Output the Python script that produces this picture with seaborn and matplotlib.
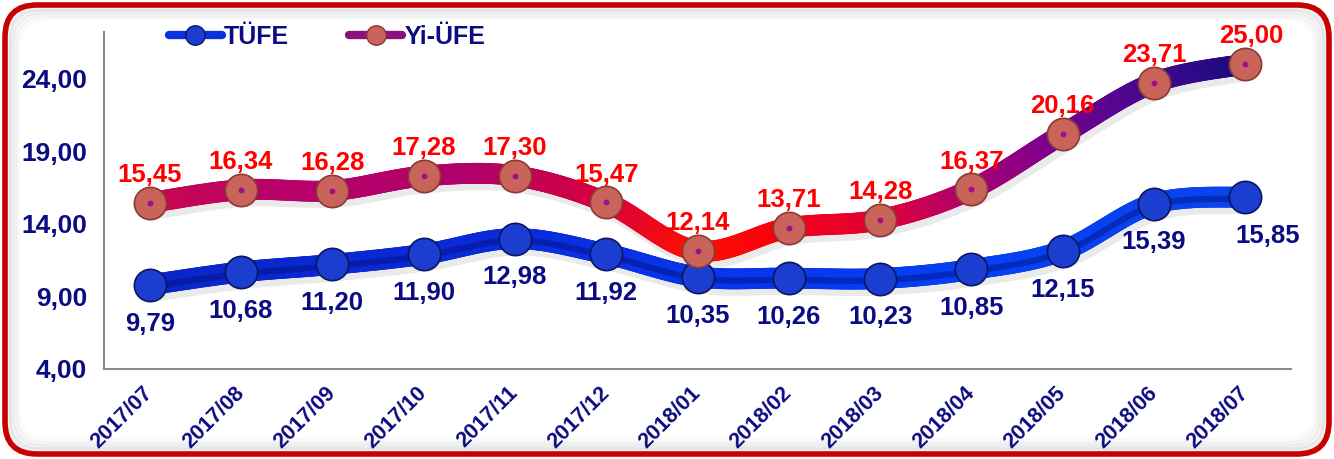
import numpy as np
import seaborn as sns
import matplotlib.pyplot as plt
from matplotlib.collections import LineCollection
from matplotlib.colors import LinearSegmentedColormap
from matplotlib.patches import FancyBboxPatch
from matplotlib.lines import Line2D

months = ["2017/07", "2017/08", "2017/09", "2017/10", "2017/11", "2017/12", "2018/01",
          "2018/02", "2018/03", "2018/04", "2018/05", "2018/06", "2018/07"]
tufe = [9.79, 10.68, 11.20, 11.90, 12.98, 11.92, 10.35, 10.26, 10.23, 10.85, 12.15, 15.39, 15.85]
yiufe = [15.45, 16.34, 16.28, 17.28, 17.30, 15.47, 12.14, 13.71, 14.28, 16.37, 20.16, 23.71, 25.00]
yticks = [4, 9, 14, 19, 24]

NAVY = "#0c0c82"
RED = "#ff0000"

sns.set_style("white")
plt.rcParams["font.family"] = ["Liberation Sans", "DejaVu Sans"]
plt.rcParams["font.weight"] = "bold"


def smooth(y, n=40):
    # excel-style bezier smoothing through the data points
    y = np.asarray(y, float)
    x = np.arange(len(y), dtype=float)
    pts = np.column_stack([x, y])
    k = len(pts)
    t = np.linspace(0, 1, n)[:, None]
    out = []
    for i in range(k - 1):
        p0, p1 = pts[max(i - 1, 0)], pts[i]
        p2, p3 = pts[i + 1], pts[min(i + 2, k - 1)]
        c1 = p1 + (p2 - p0) / 6
        c2 = p2 - (p3 - p1) / 6
        b = (1 - t) ** 3 * p1 + 3 * (1 - t) ** 2 * t * c1 + 3 * (1 - t) * t ** 2 * c2 + t ** 3 * p2
        out.append(b if i == 0 else b[1:])
    return np.vstack(out)


def gradient_line(ax, y, cmap, lw, band=None):
    c = smooth(y)
    # soft shadow under the tube
    ax.plot(c[:, 0] + 0.04, c[:, 1] - 0.45, color="#808080", alpha=0.16, lw=lw, solid_capstyle="round", zorder=1)
    segs = np.stack([c[:-1], c[1:]], axis=1)
    lc = LineCollection(segs, colors=cmap(c[:-1, 0] / (len(y) - 1)), linewidths=lw,
                        capstyle="round", joinstyle="round", zorder=2)
    ax.add_collection(lc)
    if band:
        ax.plot(c[:, 0], c[:, 1] - 0.12, color=band, alpha=0.4, lw=lw * 0.3,
                solid_capstyle="round", zorder=2.5)


tufe_cmap = LinearSegmentedColormap.from_list("tufe", [
    (0.0, "#0a26c8"), (0.3, "#0a2ad8"), (0.5, "#0834e8"), (0.75, "#0640f4"), (1.0, "#0a44ec")])
yiufe_cmap = LinearSegmentedColormap.from_list("yiufe", [
    (0.0, "#c8084e"), (0.12, "#b8006a"), (0.3, "#b0006a"), (0.42, "#d8003c"), (0.5, "#ff1000"),
    (0.58, "#f80010"), (0.68, "#e0003a"), (0.75, "#b0006e"), (0.83, "#7a0090"), (0.92, "#42088e"),
    (1.0, "#1c0a80")])

fig = plt.figure(figsize=(13.34, 4.59), dpi=100)

# rounded red frame with inner shadow
bg = fig.add_axes([0, 0, 1, 1], zorder=-5)
bg.set_xlim(0, 1334)
bg.set_ylim(0, 459)
bg.axis("off")
for i, a in enumerate([0.10, 0.07, 0.05, 0.03]):
    bg.add_patch(FancyBboxPatch((9 + 3 * i, 9 + 3 * i), 1316 - 6 * i, 441 - 6 * i,
                                boxstyle="round,pad=0,rounding_size=30", fc="none",
                                ec="#606060", lw=4, alpha=a))
bg.add_patch(FancyBboxPatch((5, 5), 1324, 449, boxstyle="round,pad=0,rounding_size=32",
                            fc="none", ec="#c80000", lw=4))

ax = fig.add_axes([104 / 1334, 1 - 369 / 459, 1187 / 1334, (369 - 32) / 459])
x = np.arange(len(months))

gradient_line(ax, yiufe, yiufe_cmap, 15)
gradient_line(ax, tufe, tufe_cmap, 15, band="#000a70")

sns.scatterplot(x=x, y=tufe, s=540, color="#1c3ed0", edgecolor="#0a1660", linewidth=1.2, ax=ax, zorder=4)
sns.scatterplot(x=x, y=yiufe, s=540, color="#c8645a", edgecolor="#8a3a32", linewidth=1.2, ax=ax, zorder=4)
sns.scatterplot(x=x, y=yiufe, s=18, color="#a0108c", linewidth=0, ax=ax, zorder=5)

for i, v in enumerate(tufe):
    dx = 16 if i == len(tufe) - 1 else 0
    ax.annotate(f"{v:.2f}".replace(".", ","), (i, v), xytext=(dx, -28), textcoords="offset points",
                ha="center", va="center", color=NAVY, fontsize=18.5, fontweight="bold", zorder=6)
for i, v in enumerate(yiufe):
    dx = 4 if i == len(yiufe) - 1 else 0
    ax.annotate(f"{v:.2f}".replace(".", ","), (i, v), xytext=(dx, 20), textcoords="offset points",
                ha="center", va="center", color=RED, fontsize=18.5, fontweight="bold", zorder=6)

ax.set_xlim(-0.5, len(months) - 0.5)
ax.set_ylim(4, 27.2)
ax.set_yticks(yticks)
ax.set_yticklabels([f"{t:.2f}".replace(".", ",") for t in yticks], color=NAVY, fontsize=19, fontweight="bold")
ax.set_xticks(x)
ax.set_xticklabels(months, rotation=45, ha="right", va="center", rotation_mode="anchor",
                   color=NAVY, fontsize=15.5, fontweight="bold")
ax.set_xticks(np.arange(-0.5, len(months)), minor=True)
ax.tick_params(axis="x", which="major", length=0, pad=15)
ax.tick_params(axis="x", which="minor", length=6, color="#888888", width=1.5)
ax.tick_params(axis="y", length=6, color="#888888", width=1.5, pad=6)
for s in ["top", "right"]:
    ax.spines[s].set_visible(False)
for s in ["left", "bottom"]:
    ax.spines[s].set_color("#8c8c8c")
    ax.spines[s].set_linewidth(1.5)

handles = [
    Line2D([0], [0], color="#0a30e0", lw=6, marker="o", markersize=14,
           markerfacecolor="#1c3ed0", markeredgecolor="#0a1660"),
    Line2D([0], [0], color="#8a1080", lw=6, marker="o", markersize=14,
           markerfacecolor="#c8645a", markeredgecolor="#8a3a32"),
]
leg = ax.legend(handles, ["TÜFE", "Yi-ÜFE"], loc="center left", bbox_to_anchor=(0.036, 0.985),
                ncol=2, frameon=False, handlelength=2.1, handletextpad=0.1, columnspacing=2.4,
                prop={"size": 18, "weight": "bold"})
for t in leg.get_texts():
    t.set_color(NAVY)

fig.savefig("out.png", dpi=100)
